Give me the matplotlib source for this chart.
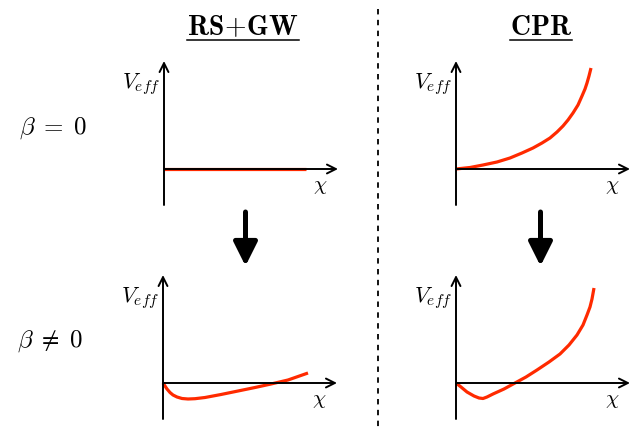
import matplotlib
matplotlib.use("Agg")
import matplotlib.pyplot as plt

plt.rcParams['mathtext.fontset'] = 'cm'
plt.rcParams['font.family'] = 'serif'
plt.rcParams['font.serif'] = ['cmr10', 'DejaVu Serif']
plt.rcParams['axes.formatter.use_mathtext'] = True

W, H = 632, 431

# column / row titles
col_titles = [r'$\mathbf{RS\!+\!GW}$', r'$\mathbf{CPR}$']
row_labels = [r'$\beta \;=\; 0$', r'$\beta \;\neq\; 0$']

# schematic potentials (chi, V_eff) in arbitrary units
rsgw_b0_chi = [0, 142]
rsgw_b0_v = [0, 0]

cpr_b0_chi = [0, 14, 27, 41, 54, 66, 77, 86, 94, 101, 107, 112, 117, 122, 126, 129, 131, 133, 135]
cpr_b0_v = [0, 1.5, 4, 7, 11, 16, 21, 26, 31, 37, 43, 49, 56, 64, 73, 80, 86, 93, 101]

rsgw_b1_chi = [0, 2, 4, 7, 10, 14, 19, 25, 32, 42, 58, 75, 92, 108, 125, 145]
rsgw_b1_v = [0, -3, -6, -9.5, -12, -14, -15.5, -16, -15.7, -14.5, -11.5, -8, -4.5, -1, 3, 10]

cpr_b1_chi = [0, 5, 11, 18, 23, 27, 31, 37, 48, 59, 70, 81, 93, 104, 113, 121, 127, 131, 134, 136, 138]
cpr_b1_v = [0, -4, -9, -13, -15, -15.5, -14, -11, -6, 0, 6, 13, 21, 29, 38, 48, 58, 68, 76, 84, 95]

panels = [
    ((164, 170), rsgw_b0_chi, rsgw_b0_v),
    ((456, 170), cpr_b0_chi, cpr_b0_v),
    ((163, 384), rsgw_b1_chi, rsgw_b1_v),
    ((456, 384), cpr_b1_chi, cpr_b1_v),
]

XMAX, YMIN, YMAX = 174, -36, 108
red = '#ff2a00'

fig = plt.figure(figsize=(W / 100, H / 100), dpi=100)

# overlay in pixel coordinates for the decorations
bg = fig.add_axes([0, 0, 1, 1])
bg.set_xlim(0, W)
bg.set_ylim(H, 0)
bg.axis('off')

# dotted separator
bg.plot([378, 378], [10, 428], color='k', lw=1.3, ls=(0, (3, 3)))

# big down arrows
for x in [245.5, 540.5]:
    bg.annotate('', xy=(x, 267), xytext=(x, 213),
                arrowprops=dict(arrowstyle='-|>', lw=3.6, color='k',
                                mutation_scale=36, shrinkA=0, shrinkB=0))

# titles
title_texts = []
for txt, xc in zip(col_titles, [243, 541]):
    title_texts.append(bg.text(xc, 35, txt, ha='center', va='baseline', fontsize=20))

for txt, (xc, yc) in zip(row_labels, [(53, 128), (50, 341)]):
    bg.text(xc, yc, txt, ha='center', va='center', fontsize=18)

for (ox, oy), chi, v in panels:
    ax = fig.add_axes([ox / W, (H - (oy - YMIN)) / H, XMAX / W, (YMAX - YMIN) / H])
    ax.set_xlim(0, XMAX)
    ax.set_ylim(YMIN, YMAX)
    ax.axis('off')
    ax.patch.set_alpha(0)
    ax.annotate('', xy=(XMAX, 0), xytext=(0, 0),
                arrowprops=dict(arrowstyle='->', lw=1.4, color='k',
                                mutation_scale=16, shrinkA=0, shrinkB=0))
    ax.annotate('', xy=(0, YMAX), xytext=(0, YMIN),
                arrowprops=dict(arrowstyle='->', lw=1.4, color='k',
                                mutation_scale=16, shrinkA=0, shrinkB=0))
    ax.plot(chi, v, color=red, lw=2.3, solid_capstyle='butt',
            solid_joinstyle='round', clip_on=False)
    ax.text(156, -17, r'$\chi$', ha='center', va='center', fontsize=15)
    ax.text(-4, 86, r'$V_{eff}$', ha='right', va='center', fontsize=16)

# underline the column titles
fig.canvas.draw()
r = fig.canvas.get_renderer()
inv = bg.transData.inverted()
for t in title_texts:
    bb = t.get_window_extent(r)
    (x0, _), (x1, _) = inv.transform([(bb.x0, bb.y0), (bb.x1, bb.y1)])
    bg.plot([x0, x1], [40.5, 40.5], color='k', lw=1.1)

fig.savefig('out.png', dpi=100)
